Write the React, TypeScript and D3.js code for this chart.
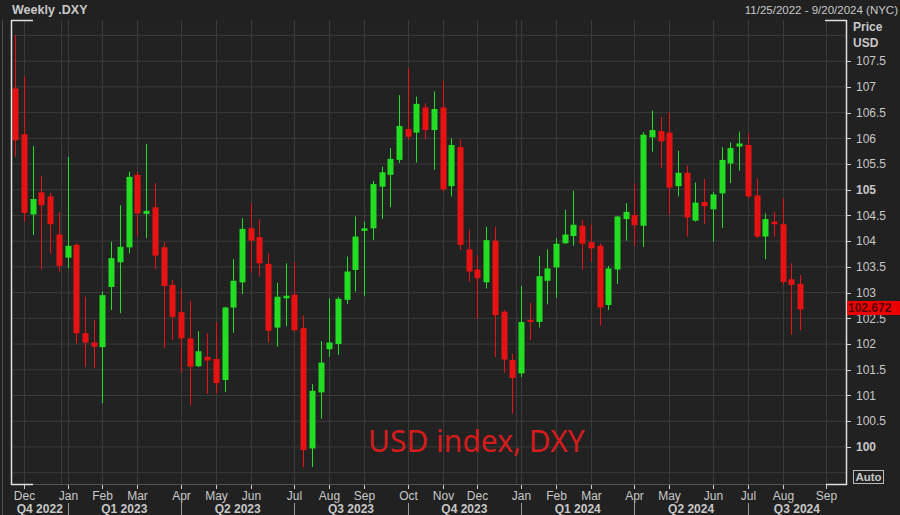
import * as d3 from "d3";
import React from "react";

// weekly candles, Friday-dated, Nov 25 2022 .. Aug 16 2024
const weeks: Date[] = d3.timeFriday.range(new Date(2022, 10, 25), new Date(2024, 7, 17));

const opens = [
  106.97, 106.08, 104.52, 104.95, 104.87, 104.13, 103.68, 103.93, 102.21, 102.03,
  101.94, 103.11, 103.59, 103.88, 105.29, 104.53, 104.66, 103.88, 103.15, 102.62,
  102.11, 101.57, 101.75, 101.71, 101.30, 102.71, 103.20, 104.25, 104.08, 103.56,
  102.32, 102.89, 102.96, 102.31, 99.97, 101.06, 101.90, 102.00, 102.86, 103.44,
  104.20, 104.25, 105.06, 105.29, 105.58, 106.18, 106.11, 106.60, 106.16, 106.60,
  105.07, 105.83, 103.84, 103.45, 103.20, 104.01, 102.63, 101.69, 101.43, 102.47,
  102.43, 103.23, 103.49, 103.96, 104.10, 104.30, 103.98, 103.91, 102.76, 103.45,
  104.43, 104.51, 104.30, 106.02, 106.14, 106.11, 105.07, 105.33, 104.40, 104.76,
  104.62, 104.93, 105.51, 105.84, 105.87, 104.89, 104.09, 104.38, 104.33, 103.26,
  103.17,
];
const highs = [
  108.01, 107.20, 105.85, 105.27, 104.94, 104.57, 105.64, 103.96, 102.92, 102.47,
  103.02, 103.99, 104.70, 105.35, 105.35, 105.89, 105.13, 103.99, 103.25, 103.08,
  102.84, 102.25, 102.21, 102.43, 102.73, 103.65, 104.45, 104.74, 104.43, 103.76,
  103.19, 103.57, 103.59, 102.56, 101.22, 102.06, 102.89, 102.92, 103.70, 104.48,
  104.38, 105.17, 105.45, 105.81, 106.84, 107.36, 106.81, 106.68, 106.91, 107.12,
  106.00, 105.98, 104.23, 103.73, 104.28, 104.28, 102.66, 101.81, 103.13, 102.80,
  103.71, 103.84, 104.06, 104.61, 104.98, 104.41, 104.33, 103.96, 103.52, 104.49,
  104.74, 105.13, 106.12, 106.54, 106.42, 106.50, 105.76, 105.47, 105.14, 105.21,
  104.96, 105.83, 105.92, 106.13, 106.10, 105.22, 104.54, 104.57, 104.83, 103.57,
  103.34,
];
const lows = [
  105.64, 104.38, 104.12, 103.45, 103.76, 103.41, 103.47, 102.01, 101.56, 101.53,
  100.85, 102.66, 102.60, 103.76, 104.09, 104.06, 103.45, 101.92, 102.08, 101.44,
  100.81, 101.55, 101.03, 101.04, 101.07, 102.22, 102.97, 103.39, 103.31, 102.03,
  101.95, 102.35, 102.24, 99.61, 99.61, 100.55, 101.75, 101.79, 102.78, 103.02,
  102.93, 104.02, 104.43, 104.66, 105.52, 105.97, 105.53, 105.98, 105.39, 104.96,
  104.87, 103.83, 103.21, 102.50, 103.08, 101.75, 101.44, 100.65, 101.36, 102.08,
  102.32, 102.77, 102.90, 103.95, 103.91, 103.44, 103.60, 102.36, 102.66, 103.17,
  104.01, 103.91, 103.89, 105.74, 105.42, 104.52, 104.87, 104.09, 104.38, 104.33,
  103.99, 104.26, 105.13, 105.37, 104.83, 104.06, 103.65, 104.09, 103.15, 102.18,
  102.27,
];
const closes = [
  105.96, 104.55, 104.82, 104.70, 104.33, 103.52, 103.91, 102.21, 102.03, 101.95,
  102.95, 103.67, 103.89, 105.25, 104.54, 104.59, 103.72, 103.13, 102.53, 102.11,
  101.56, 101.86, 101.68, 101.24, 102.71, 103.23, 104.24, 104.01, 103.57, 102.26,
  102.92, 102.94, 102.27, 99.94, 101.09, 101.64, 102.03, 102.88, 103.41, 104.09,
  104.25, 105.11, 105.34, 105.60, 106.24, 106.03, 106.67, 106.16, 106.57, 105.01,
  105.87, 103.93, 103.41, 103.28, 104.02, 102.56, 101.70, 101.34, 102.43, 102.43,
  103.32, 103.47, 103.95, 104.13, 104.32, 103.95, 103.86, 102.71, 103.47, 104.48,
  104.57, 104.31, 106.07, 106.16, 105.94, 105.04, 105.33, 104.46, 104.75, 104.68,
  104.91, 105.58, 105.81, 105.90, 104.87, 104.09, 104.43, 104.33, 103.21, 103.15,
  102.672,
];

const priceTicks = [100, 100.5, 101, 101.5, 102, 102.5, 103, 103.5, 104, 104.5, 105, 105.5, 106, 106.5, 107, 107.5];
const gridLevels = [99.5, ...priceTicks, 108];
const boldTicks = [100, 105];
const lastPrice = "102.672";

const width = 900;
const height = 515;
const left = 12;
const right = 846;
const top = 20;
const bottom = 485;

const font = "'Liberation Sans', Arial, sans-serif";
const textColor = "#c8c8c8";
const up = "#22dd22";
const down = "#e81212";

const App: React.FC = () => {
  const x = d3.scaleTime().domain([weeks[0], weeks[weeks.length - 1]]).range([15.3, 800.1]);
  const y = d3.scaleLinear().domain([99.26, 108.3]).range([bottom, top]);

  const months = d3.timeMonth.range(new Date(2022, 11, 1), new Date(2024, 8, 2));
  const monthTicks = months.map((m) => ({ m, d: d3.timeFriday.ceil(m) }));
  const yearLines = [new Date(2023, 0, 1), new Date(2024, 0, 1)];

  const quarterStarts = d3.timeMonth.range(new Date(2022, 9, 1), new Date(2024, 9, 2), 3);
  const quarters = quarterStarts.slice(0, -1).map((q, i) => {
    const x0 = Math.max(left, x(d3.timeFriday.ceil(q)));
    const x1 = Math.min(right, x(d3.timeFriday.ceil(quarterStarts[i + 1])));
    return { label: `Q${Math.floor(q.getMonth() / 3) + 1} ${q.getFullYear()}`, x0, x1 };
  });

  const fmt = (v: number) => (Number.isInteger(v) ? String(v) : v.toFixed(1));

  return (
    <svg
      width={width}
      height={height}
      style={{ position: "absolute", left: 0, top: 0, display: "block", background: "#212121" }}
    >
      <rect x={0} y={0} width={width} height={height} fill="#212121" />
      <line x1={2.5} x2={2.5} y1={20} y2={height} stroke="#4a4a4a" />
      <rect x={left} y={top} width={right - left} height={bottom - top} fill="#222222" />

      {/* grid */}
      {gridLevels.map((v) => (
        <line key={"h" + v} x1={left} x2={right} y1={y(v)} y2={y(v)} stroke="#3a3a3a" />
      ))}
      {monthTicks.map(({ d }, i) =>
        x(d) < right ? (
          <line key={"v" + i} x1={Math.round(x(d)) + 0.5} x2={Math.round(x(d)) + 0.5} y1={top} y2={bottom} stroke="#3a3a3a" />
        ) : null
      )}
      {yearLines.map((d, i) => (
        <line key={"yr" + i} x1={Math.round(x(d)) + 0.5} x2={Math.round(x(d)) + 0.5} y1={top} y2={bottom} stroke="#3a3a3a" />
      ))}

      {/* candles */}
      {weeks.map((w, i) => {
        const o = opens[i];
        const c = closes[i];
        const col = c >= o ? up : down;
        const cx = Math.round(x(w));
        const yt = y(Math.max(o, c));
        const yb = y(Math.min(o, c));
        return (
          <g key={i}>
            <line x1={cx + 0.5} x2={cx + 0.5} y1={y(highs[i])} y2={y(lows[i])} stroke={col} strokeWidth={1} />
            <rect x={cx - 2.5} y={yt} width={6} height={Math.max(2, yb - yt)} fill={col} />
          </g>
        );
      })}

      <text x={368} y={452} fill="#d41c1c" fontFamily="'Noto Sans', sans-serif" fontSize={30}>
        USD index, DXY
      </text>

      {/* frame */}
      <line x1={left - 0.5} x2={left - 0.5} y1={top} y2={bottom} stroke="#e0e0e0" strokeWidth={1.5} />
      <line x1={right + 0.5} x2={right + 0.5} y1={top} y2={bottom} stroke="#e0e0e0" strokeWidth={1.5} />
      <line x1={left} x2={right} y1={bottom - 0.5} y2={bottom - 0.5} stroke="#555" />
      <line x1={left - 1} x2={33} y1={top + 0.5} y2={top + 0.5} stroke="#e0e0e0" strokeWidth={1.5} />
      <line x1={left - 1} x2={33} y1={bottom - 0.5} y2={bottom - 0.5} stroke="#e0e0e0" strokeWidth={1.5} />
      <line x1={825} x2={right + 1} y1={top + 0.5} y2={top + 0.5} stroke="#e0e0e0" strokeWidth={1.5} />
      <line x1={826} x2={right + 1} y1={bottom - 0.5} y2={bottom - 0.5} stroke="#e0e0e0" strokeWidth={1.5} />

      {/* header */}
      <text x={12} y={14} fill={textColor} fontFamily={font} fontSize={12.5} fontWeight="bold">
        Weekly .DXY
      </text>
      <text x={898} y={14} fill={textColor} fontFamily={font} fontSize={11.5} textAnchor="end">
        11/25/2022 - 9/20/2024 (NYC)
      </text>

      {/* price axis */}
      <text x={853} y={31} fill={textColor} fontFamily={font} fontSize={12} fontWeight="bold">Price</text>
      <text x={853} y={47} fill={textColor} fontFamily={font} fontSize={12} fontWeight="bold">USD</text>
      {priceTicks.map((v) => (
        <g key={"t" + v}>
          <line x1={right} x2={right + 5} y1={Math.round(y(v)) + 0.5} y2={Math.round(y(v)) + 0.5} stroke="#d0d0d0" />
          <text
            x={856}
            y={y(v)}
            dy="0.35em"
            fill={textColor}
            fontFamily={font}
            fontSize={12}
            fontWeight={boldTicks.includes(v) ? "bold" : "normal"}
          >
            {fmt(v)}
          </text>
        </g>
      ))}
      <rect x={847} y={301} width={53} height={14} fill="#ee0000" />
      <text x={848} y={308} dy="0.35em" fill="#5a0000" fontFamily={font} fontSize={12} fontWeight="bold">
        {lastPrice}
      </text>
      <rect x={853.5} y={470.5} width={30} height={13} fill="none" stroke="#bbbbbb" />
      <text x={868.5} y={477} dy="0.35em" textAnchor="middle" fill={textColor} fontFamily={font} fontSize={11.5} fontWeight="bold">
        Auto
      </text>

      {/* time axis */}
      {monthTicks.map(({ m, d }, i) => {
        const tx = Math.round(x(d)) + 0.5;
        return (
          <g key={"m" + i}>
            <line x1={tx} x2={tx} y1={bottom} y2={bottom + 4} stroke="#d0d0d0" />
            <text x={tx} y={500} textAnchor="middle" fill={textColor} fontFamily={font} fontSize={12}>
              {d3.timeFormat("%b")(m)}
            </text>
          </g>
        );
      })}
      {quarters.map((q, i) => (
        <g key={"q" + i}>
          {i > 0 ? (
            <line x1={Math.round(q.x0) + 0.5} x2={Math.round(q.x0) + 0.5} y1={503} y2={515} stroke="#9a9a9a" />
          ) : null}
          <text
            x={(q.x0 + q.x1) / 2}
            y={513}
            textAnchor="middle"
            fill={textColor}
            fontFamily={font}
            fontSize={12}
            fontWeight="bold"
          >
            {q.label}
          </text>
        </g>
      ))}
    </svg>
  );
};

export default App;
